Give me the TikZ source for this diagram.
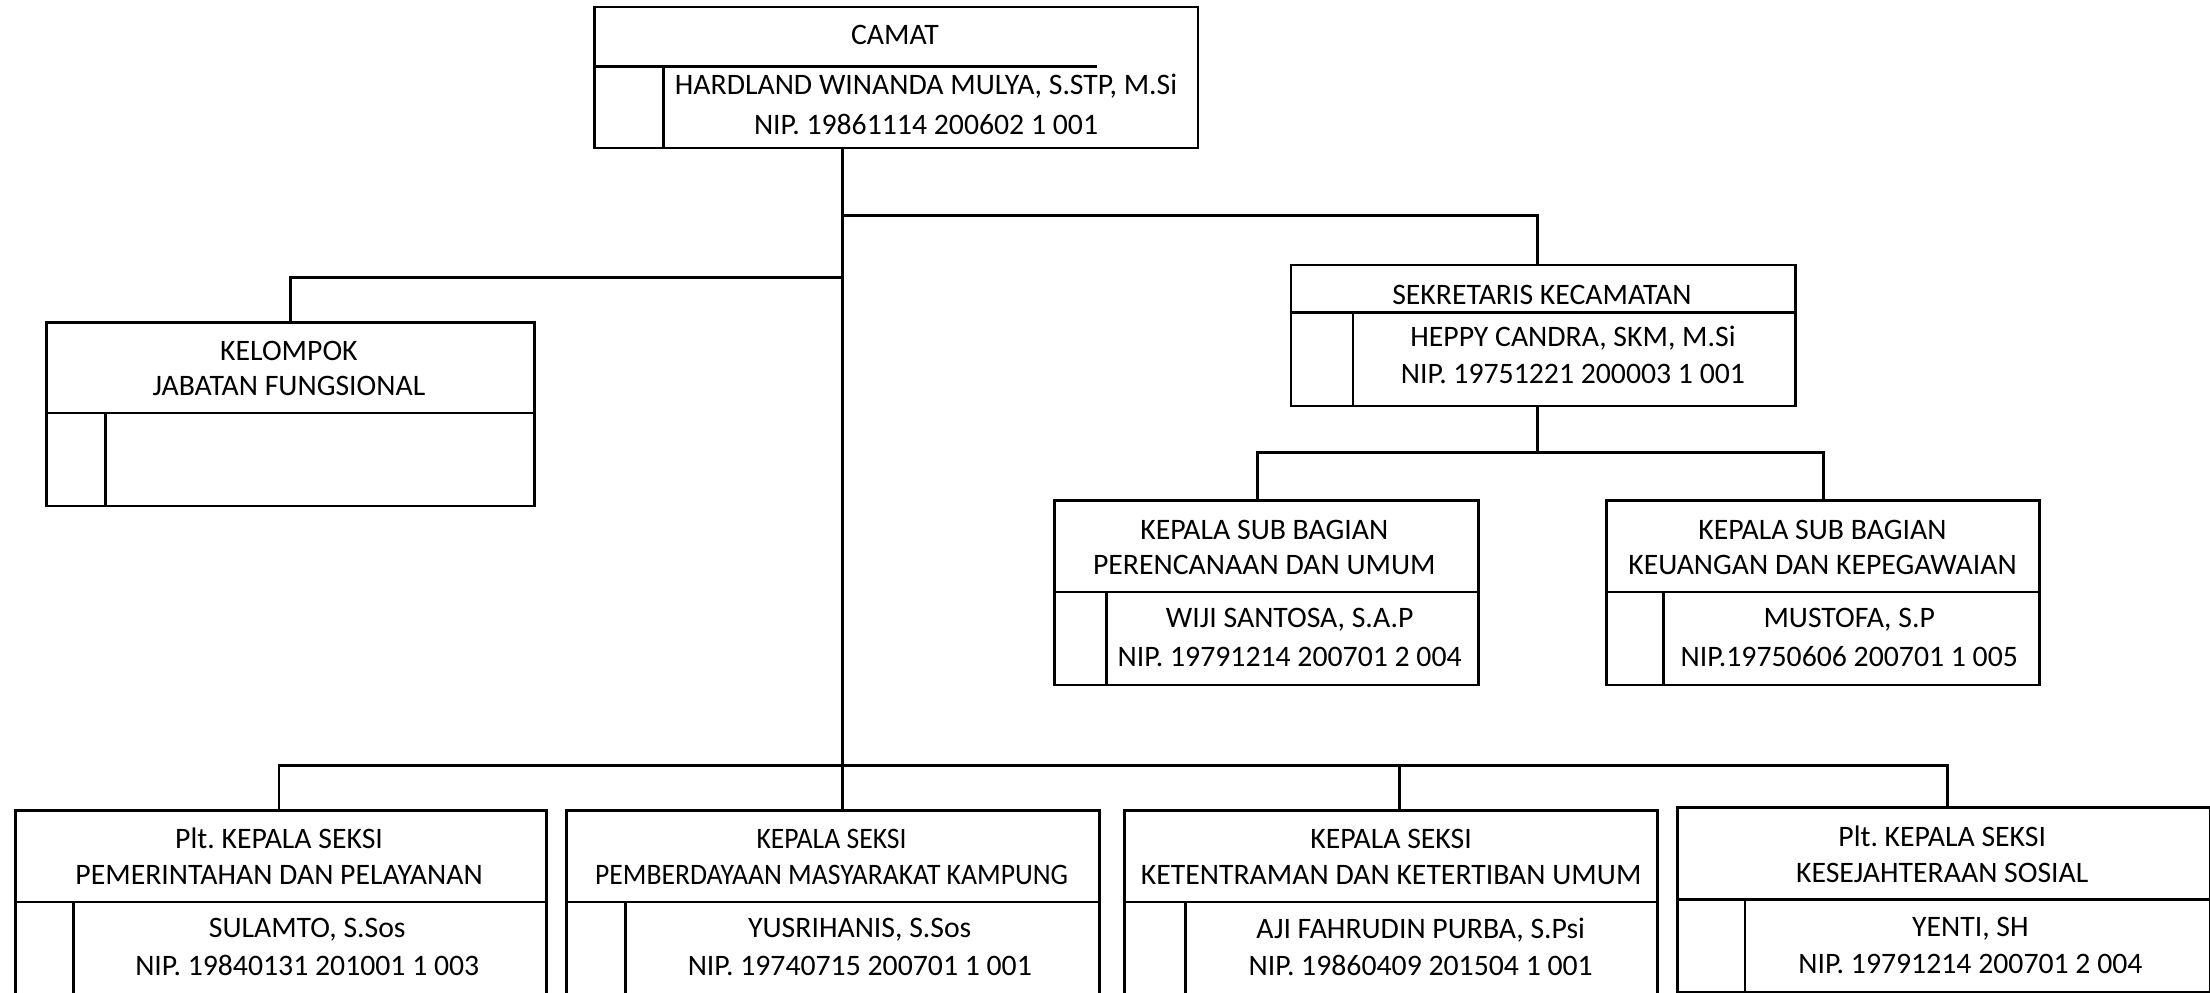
\documentclass[tikz,border=0pt]{standalone}
\usepackage{fontspec}
\setmainfont{Carlito}
\frenchspacing
\begin{document}
\begin{tikzpicture}[x=1pt,y=-1pt,
  box/.style={draw, line width=2pt, rectangle, inner sep=0pt, anchor=north west},
  ln/.style={line width=2pt},
  lbl/.style={font=\fontsize{21.1}{25}\selectfont, inner sep=0pt, anchor=center},
  cond/.style={lbl, xscale=0.93}]
\useasboundingbox (0,0) rectangle (1568,704);

% ---------- boxes ----------
\node[box, minimum width=428pt, minimum height=100pt] (camat) at (421,4) {};
\node[box, minimum width=346pt, minimum height=130pt] (kel) at (32,228) {};
\node[box, minimum width=358pt, minimum height=100pt] (sek) at (915,187) {};
\node[box, minimum width=301pt, minimum height=131pt] (sb1) at (747,354) {};
\node[box, minimum width=307pt, minimum height=131pt] (sb2) at (1139,354) {};
\node[box, minimum width=377pt, minimum height=140pt] (b1) at (10,574) {};
\node[box, minimum width=378pt, minimum height=140pt] (b2) at (401,574) {};
\node[box, minimum width=378pt, minimum height=140pt] (b3) at (797,574) {};
\node[box, minimum width=378pt, minimum height=131pt] (b4) at (1189,572) {};

% ---------- inner dividers ----------
\draw[ln] (camat.west |- 0,47) -- (778,47);
\draw[ln] (471,47) -- (471,0 |- camat.south);
\draw[ln] (kel.west |- 0,293) -- (kel.east |- 0,293);
\draw[ln] (75,293) -- (75,0 |- kel.south);
\draw[ln] (sek.west |- 0,222) -- (sek.east |- 0,222);
\draw[ln] (960,222) -- (960,0 |- sek.south);
\draw[ln] (sb1.west |- 0,420) -- (sb1.east |- 0,420);
\draw[ln] (785,420) -- (785,0 |- sb1.south);
\draw[ln] (sb2.west |- 0,420) -- (sb2.east |- 0,420);
\draw[ln] (1180,420) -- (1180,0 |- sb2.south);
\draw[ln] (b1.west |- 0,640) -- (b1.east |- 0,640);
\draw[ln] (52,640) -- (52,0 |- b1.south);
\draw[ln] (b2.west |- 0,640) -- (b2.east |- 0,640);
\draw[ln] (444,640) -- (444,0 |- b2.south);
\draw[ln] (b3.west |- 0,640) -- (b3.east |- 0,640);
\draw[ln] (841,640) -- (841,0 |- b3.south);
\draw[ln] (b4.west |- 0,638) -- (b4.east |- 0,638);
\draw[ln] (1238,638) -- (1238,0 |- b4.south);

% ---------- junctions ----------
\coordinate (jR) at (598,153);
\coordinate (jL) at (598,197);
\coordinate (jB) at (598,543);
\coordinate (jS) at (1091,321);

% ---------- connectors ----------
\draw[ln] (camat.south -| jB) -- (jB);
\draw[ln] (jR) -| (sek.north -| jS);
\draw[ln] (jL) -| (kel.north);
\draw[ln] (sek.south -| jS) -- (jS);
\draw[ln] (sb1.north -| 892,0) |- (jS) -| (sb2.north);
\draw[ln] (b1.north -| 198,0) |- (jB) -| (b4.north -| 1382,0);
\draw[ln] (jB) -- (b2.north -| jB);
\draw[ln] (b3.north -| 993,0) -- (993,543);

% ---------- texts ----------
\node[lbl] (t1) at (635,25) {CAMAT};
\node[lbl] (t2) at (657,61) {HARDLAND WINANDA MULYA, S.STP, M.Si};
\node[lbl] (t3) at (657,88) {NIP. 19861114 200602 1 001};

\node[lbl] (t4) at (205,249) {KELOMPOK};
\node[lbl] (t5) at (205,274) {JABATAN FUNGSIONAL};

\node[lbl] (t6) at (1094,209) {SEKRETARIS KECAMATAN};
\node[lbl] (t7) at (1116,240) {HEPPY CANDRA, SKM, M.Si};
\node[lbl] (t8) at (1116,265) {NIP. 19751221 200003 1 001};

\node[lbl] (t9) at (897,376) {KEPALA SUB BAGIAN};
\node[lbl] (t10) at (897,401) {PERENCANAAN DAN UMUM};
\node[lbl] (t11) at (915,440) {WIJI SANTOSA, S.A.P};
\node[lbl] (t12) at (915,466) {NIP. 19791214 200701 2 004};

\node[lbl] (t13) at (1293,376) {KEPALA SUB BAGIAN};
\node[lbl] (t14) at (1293,401) {KEUANGAN DAN KEPEGAWAIAN};
\node[lbl] (t15) at (1312,440) {MUSTOFA, S.P};
\node[lbl] (t16) at (1312,466) {NIP.19750606 200701 1 005};

\node[lbl] (t17) at (198,595) {Plt. KEPALA SEKSI};
\node[lbl] (t18) at (198,621) {PEMERINTAHAN DAN PELAYANAN};
\node[lbl] (t19) at (218,660) {SULAMTO, S.Sos};
\node[lbl] (t20) at (218,685) {NIP. 19840131 201001 1 003};

\node[cond] (t21) at (590,595) {KEPALA SEKSI};
\node[cond] (t22) at (590,621) {PEMBERDAYAAN MASYARAKAT KAMPUNG};
\node[lbl] (t23) at (610,660) {YUSRIHANIS, S.Sos};
\node[lbl] (t24) at (610,685) {NIP. 19740715 200701 1 001};

\node[lbl] (t25) at (987,595) {KEPALA SEKSI};
\node[lbl] (t26) at (987,621) {KETENTRAMAN DAN KETERTIBAN UMUM};
\node[lbl] (t27) at (1008,660) {AJI FAHRUDIN PURBA, S.Psi};
\node[lbl] (t28) at (1008,685) {NIP. 19860409 201504 1 001};

\node[lbl] (t29) at (1378,593) {Plt. KEPALA SEKSI};
\node[lbl] (t30) at (1378,619) {KESEJAHTERAAN SOSIAL};
\node[lbl] (t31) at (1398,659) {YENTI, SH};
\node[lbl] (t32) at (1398,684) {NIP. 19791214 200701 2 004};
\end{tikzpicture}
\end{document}
